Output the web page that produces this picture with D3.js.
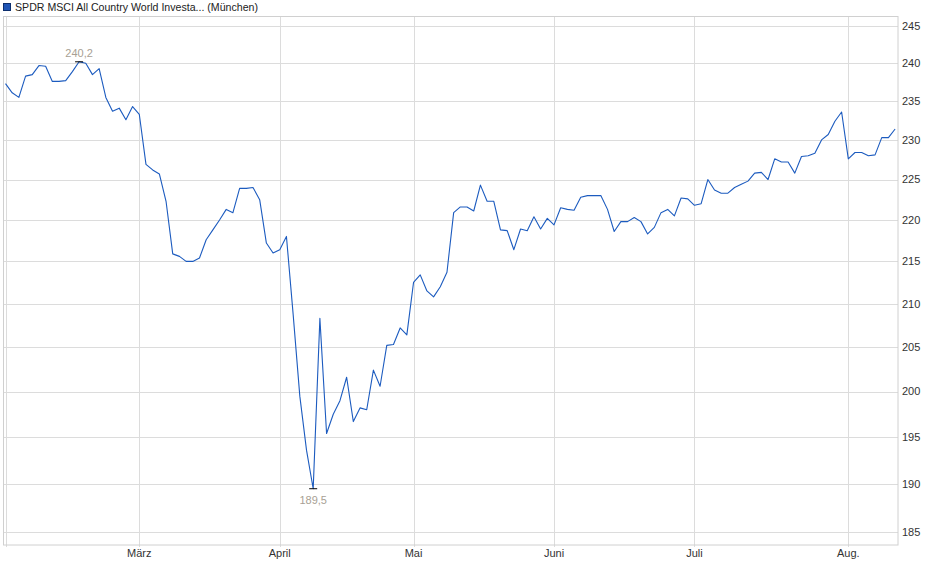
<!DOCTYPE html>
<html>
<head>
<meta charset="utf-8">
<script src="https://cdn.jsdelivr.net/npm/d3@7"></script>
<style>
  body { margin: 0; background: #fff; }
  svg { display: block; font-family: "Liberation Sans", Arial, sans-serif; }
</style>
</head>
<body>
<svg id="chart" width="940" height="579"></svg>
<script>
// closing prices per trading day (Munich)
const prices = [
  237.3, 236.1, 235.5, 238.3, 238.5, 239.7, 239.6, 237.6, 237.6, 237.7,
  238.9, 240.2, 240.0, 238.5, 239.3, 235.5, 233.7, 234.1, 232.6, 234.3,
  233.3, 226.9, 226.2, 225.7, 222.3, 215.9, 215.6, 215.0, 215.0, 215.4,
  217.6, 218.8, 220.0, 221.3, 220.9, 223.9, 223.9, 224.0, 222.5, 217.2,
  216.0, 216.4, 218.0, 208.8, 199.5, 193.6, 189.5, 208.3, 195.4, 197.5,
  199.0, 201.6, 196.7, 198.2, 198.0, 202.4, 200.6, 205.2, 205.3, 207.2,
  206.4, 212.5, 213.4, 211.5, 210.8, 212.0, 213.7, 220.9, 221.6, 221.6,
  221.1, 224.3, 222.3, 222.3, 218.8, 218.7, 216.4, 218.9, 218.7, 220.4,
  218.9, 220.2, 219.4, 221.5, 221.3, 221.2, 222.8, 223.0, 223.0, 223.0,
  221.3, 218.6, 219.8, 219.8, 220.3, 219.8, 218.3, 219.1, 220.9, 221.3,
  220.5, 222.7, 222.6, 221.8, 222.0, 225.0, 223.7, 223.3, 223.3, 224.0,
  224.4, 224.8, 225.8, 225.9, 225.0, 227.6, 227.2, 227.2, 225.8, 227.9,
  228.0, 228.3, 230.0, 230.7, 232.4, 233.6, 227.6, 228.4, 228.4, 228.0,
  228.1, 230.3, 230.3, 231.4
];

// first trading day of each month (index into prices)
const monthLabels = ['', 'März', 'April', 'Mai', 'Juni', 'Juli', 'Aug.'];
const monthStarts = [0, 20, 41, 61, 82, 103, 126];

const yTicks = [185, 190, 195, 200, 205, 210, 215, 220, 225, 230, 235, 240, 245];

const title = 'SPDR MSCI All Country World Investa... (München)';

const plotLeft = 3.5, plotRight = 898, plotTop = 16.5, plotBottom = 545;

const svg = d3.select('#chart');

const x = d3.scaleLinear()
    .domain([-0.3, 133.43])
    .range([plotLeft, plotRight]);

const y = d3.scaleLog()
    .domain([183.67, 246.32])
    .range([plotBottom, plotTop]);

// horizontal grid + right axis
const yAxis = svg.append('g').classed('y-axis', true);

yAxis.selectAll('line.grid')
    .data(yTicks)
    .enter()
    .append('line')
      .classed('grid', true)
      .attr('x1', plotLeft)
      .attr('x2', plotRight)
      .attr('y1', (d) => Math.round(y(d)) + 0.5)
      .attr('y2', (d) => Math.round(y(d)) + 0.5)
      .style('stroke', '#dcdcdc')
      .style('stroke-width', 1);

yAxis.selectAll('text')
    .data(yTicks)
    .enter()
    .append('text')
      .text((d) => d)
      .attr('x', plotRight + 4)
      .attr('y', (d) => y(d) + 3.8)
      .style('font-size', '11px')
      .style('fill', '#333');

// vertical grid + month axis
const xAxis = svg.append('g').classed('x-axis', true);

xAxis.selectAll('line.grid')
    .data(monthStarts)
    .enter()
    .append('line')
      .classed('grid', true)
      .attr('x1', (d) => Math.round(x(d)) + 0.5)
      .attr('x2', (d) => Math.round(x(d)) + 0.5)
      .attr('y1', plotTop)
      .attr('y2', plotBottom + 2)
      .style('stroke', '#dcdcdc')
      .style('stroke-width', 1);

xAxis.selectAll('text')
    .data(monthStarts)
    .enter()
    .append('text')
      .text((d, i) => monthLabels[i])
      .attr('x', (d) => x(d))
      .attr('y', plotBottom + 12)
      .attr('text-anchor', 'middle')
      .style('font-size', '11px')
      .style('fill', '#333');

// plot frame
svg.append('rect')
    .attr('x', plotLeft)
    .attr('y', plotTop)
    .attr('width', plotRight - plotLeft)
    .attr('height', plotBottom - plotTop)
    .style('fill', 'none')
    .style('stroke', '#d0d0d0')
    .style('stroke-width', 1);

// price line
const line = d3.line()
    .x((d, i) => x(i))
    .y((d) => y(d));

svg.append('path')
    .datum(prices)
    .attr('d', line)
    .style('fill', 'none')
    .style('stroke', '#1c5bbf')
    .style('stroke-width', 1.1)
    .style('stroke-linejoin', 'round');

// high / low markers
const fmt = (v) => d3.format('.1f')(v).replace('.', ',');
const hiIdx = d3.maxIndex(prices);
const loIdx = d3.minIndex(prices);

const extremes = [
  { i: hiIdx, v: prices[hiIdx], dy: -5 },
  { i: loIdx, v: prices[loIdx], dy: 15 }
];

const marks = svg.selectAll('g.extreme')
    .data(extremes)
    .enter()
    .append('g')
    .classed('extreme', true);

marks.append('line')
    .attr('x1', (d) => x(d.i) - 4)
    .attr('x2', (d) => x(d.i) + 4)
    .attr('y1', (d) => y(d.v))
    .attr('y2', (d) => y(d.v))
    .style('stroke', '#000')
    .style('stroke-width', 1);

marks.append('text')
    .text((d) => fmt(d.v))
    .attr('x', (d) => x(d.i))
    .attr('y', (d) => y(d.v) + d.dy)
    .attr('text-anchor', 'middle')
    .style('font-size', '11px')
    .style('fill', '#a89f94');

// legend
svg.append('rect')
    .attr('x', 3.5)
    .attr('y', 3.5)
    .attr('width', 7)
    .attr('height', 7)
    .style('fill', '#1f55b5')
    .style('stroke', '#0d2f6e')
    .style('stroke-width', 1);

svg.append('text')
    .text(title)
    .attr('x', 15)
    .attr('y', 11)
    .style('font-size', '10.6px')
    .style('fill', '#222');
</script>
</body>
</html>
